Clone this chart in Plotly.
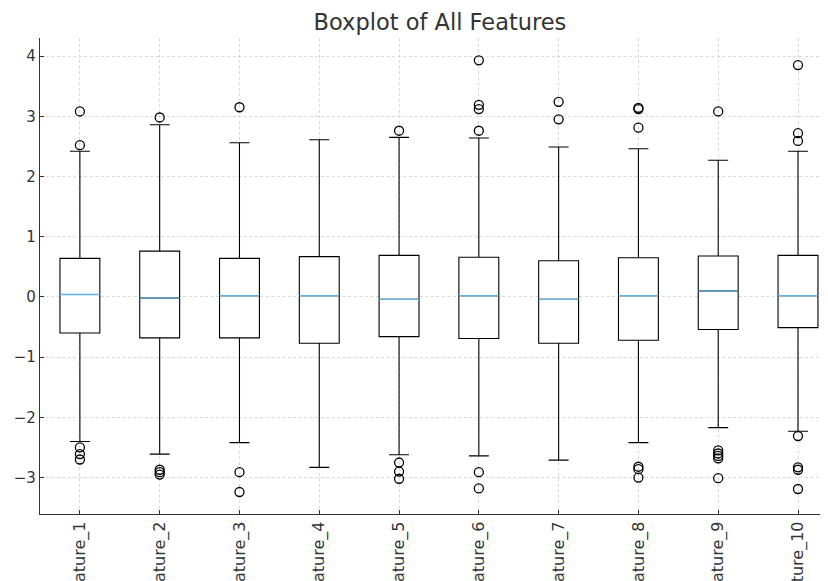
import plotly.graph_objects as go

categories = [f"Feature_{i}" for i in range(1, 11)]
positions = list(range(1, 11))

q1 = [-0.60, -0.68, -0.68, -0.77, -0.66, -0.69, -0.77, -0.72, -0.54, -0.51]
median = [0.04, -0.02, 0.02, 0.02, -0.04, 0.02, -0.04, 0.02, 0.10, 0.02]
q3 = [0.64, 0.76, 0.64, 0.67, 0.69, 0.66, 0.60, 0.65, 0.68, 0.69]
lower_whisker = [-2.40, -2.61, -2.42, -2.83, -2.62, -2.64, -2.71, -2.42, -2.17, -2.23]
upper_whisker = [2.42, 2.86, 2.56, 2.61, 2.65, 2.64, 2.49, 2.46, 2.27, 2.42]

outliers = [
    [3.08, 2.52, -2.50, -2.61, -2.70],
    [2.98, -2.87, -2.91, -2.95],
    [3.15, -2.91, -3.24],
    [],
    [2.76, -2.75, -2.90, -3.02],
    [3.93, 3.19, 3.12, 2.76, -2.91, -3.18],
    [3.24, 2.95],
    [3.14, 3.12, 2.81, -2.82, -2.86, -3.00],
    [3.08, -2.55, -2.60, -2.64, -2.68, -3.01],
    [3.85, 2.72, 2.59, -2.31, -2.83, -2.87, -3.19],
]

ytick_vals = [-3, -2, -1, 0, 1, 2, 3, 4]
ytick_text = ["\u22123", "\u22122", "\u22121", "0", "1", "2", "3", "4"]

box_width = 0.5
text_color = "#333333"
font_family = "DejaVu Sans"

fig = go.Figure()

fig.add_trace(go.Box(
    x=positions,
    q1=q1, median=median, q3=q3,
    lowerfence=lower_whisker, upperfence=upper_whisker,
    width=box_width,
    whiskerwidth=0.5,
    fillcolor="white",
    line=dict(color="black", width=1.1),
    boxpoints=False,
    hoverinfo="skip",
    showlegend=False,
))

# median lines in light blue
mx, my = [], []
for p, m in zip(positions, median):
    mx += [p - box_width / 2, p + box_width / 2, None]
    my += [m, m, None]
fig.add_trace(go.Scatter(
    x=mx, y=my, mode="lines",
    line=dict(color="#5db3e8", width=1.4),
    showlegend=False, hoverinfo="skip",
))

# outliers
ox, oy = [], []
for p, outs in zip(positions, outliers):
    for v in outs:
        ox.append(p)
        oy.append(v)
fig.add_trace(go.Scatter(
    x=ox, y=oy, mode="markers",
    marker=dict(symbol="circle-open", size=9, color="black", line=dict(width=1.3)),
    showlegend=False, hoverinfo="skip",
))

fig.update_layout(
    width=820, height=573,
    margin=dict(l=32, r=0, t=30, b=67),
    paper_bgcolor="white",
    plot_bgcolor="white",
    font=dict(family=font_family, color=text_color, size=15),
    title=dict(
        text="Boxplot of All Features",
        x=0.5076, xref="paper", xanchor="center",
        y=0.976, yref="container", yanchor="middle",
        font=dict(size=22.5, color=text_color, family=font_family),
    ),
    showlegend=False,
)

grid_color = "#dadada"
grid_dash = "3px,2.5px"

fig.update_xaxes(
    range=[0.5, 10.376],
    tickmode="array", tickvals=positions, ticktext=categories,
    tickangle=-90,
    ticks="inside", ticklen=4, tickcolor="#333333",
    showline=True, linecolor="#333333", linewidth=1.2,
    mirror=False, automargin=False,
    showgrid=True, gridcolor=grid_color, griddash=grid_dash, gridwidth=0.8,
    zeroline=False,
    tickfont=dict(size=16, color=text_color),
)

fig.update_yaxes(
    range=[-3.605, 4.30],
    tickmode="array", tickvals=ytick_vals, ticktext=ytick_text,
    ticks="inside", ticklen=4, tickcolor="#333333",
    showline=True, linecolor="#333333", linewidth=1.2,
    automargin=False,
    showgrid=True, gridcolor=grid_color, griddash=grid_dash, gridwidth=0.8,
    zeroline=False,
    tickfont=dict(size=15, color=text_color),
)

fig.write_html("out.html")
